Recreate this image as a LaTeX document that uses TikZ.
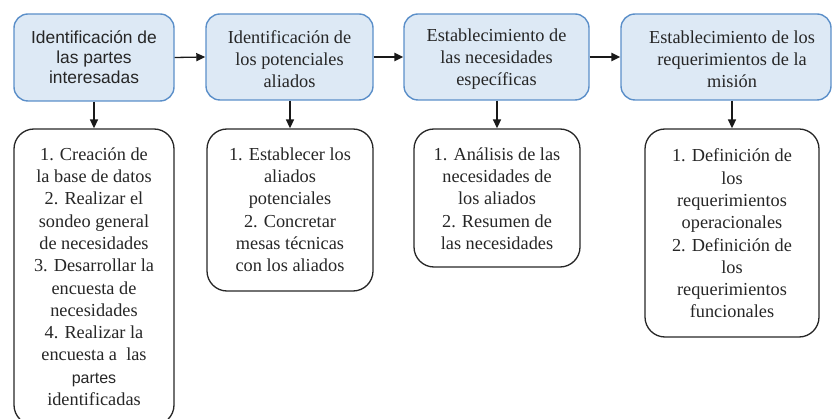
\documentclass[tikz,border=0pt]{standalone}
\usepackage{fontspec}
\setmainfont{Liberation Serif}
\newfontfamily\arialf{Liberation Sans}
\usetikzlibrary{arrows.meta}
\definecolor{boxfill}{HTML}{DDE9F5}
\definecolor{boxline}{HTML}{5B8FC9}
\definecolor{txt}{HTML}{262626}
\begin{document}
\begin{tikzpicture}[x=1pt,y=-1pt,
  topbox/.style={draw=boxline, line width=1.4pt, fill=boxfill, rounded corners=14pt,
    inner sep=0pt, align=center, text=txt, font=\fontsize{18.3}{22}\selectfont},
  toptext/.style={inner sep=0pt, align=center, text=txt, font=\fontsize{18.3}{22}\selectfont},
  lowbox/.style={draw=black!85, line width=1.3pt, rounded corners=20pt, inner sep=0pt},
  lowtext/.style={anchor=north, inner sep=0pt, align=center, text=txt,
    font=\fontsize{18.3}{22.3}\selectfont},
  arr/.style={-{Triangle[length=9pt,width=8pt]}, line width=1.6pt, draw=black!90},
]
\useasboundingbox (0,0) rectangle (832,419);

% top row
\node[topbox, minimum width=160pt, minimum height=87pt,
      font=\arialf\fontsize{17.4}{20}\selectfont] (t1) at (94,57.5)
      {Identificación de\\las partes\\interesadas};
\node[topbox, minimum width=167pt, minimum height=86pt] (t2) at (289.5,57) {};
\node[toptext] (t2txt) at (289.5,59)
      {Identificación de\\los potenciales\\aliados};
\node[topbox, minimum width=185pt, minimum height=86pt] (t3) at (496.5,57) {};
\node[toptext] (t3txt) at (496.5,59)
      {Establecimiento de\\las necesidades\\específicas};
\node[topbox, minimum width=210pt, minimum height=86pt] (t4) at (726,57) {};
\node[toptext] (t4txt) at (732,59)
      {Establecimiento de los\\requerimientos de la\\misión};

% bottom row
\node[lowbox, minimum width=160pt, minimum height=296pt] (b1) at (94,277) {};
\node[lowbox, minimum width=166pt, minimum height=162pt] (b2) at (290,210) {};
\node[lowbox, minimum width=166pt, minimum height=138pt] (b3) at (497,198) {};
\node[lowbox, minimum width=174pt, minimum height=208pt] (b4) at (732,233) {};

\node[lowtext] (b1txt) at (94,144.4)
  {\strut 1. Creación de\\la base de datos\\2. Realizar el\\sondeo general\\de necesidades\\3. Desarrollar la\\encuesta de\\necesidades\\4. Realizar la\\encuesta a\ \ las\\{\arialf\fontsize{16}{22.3}\selectfont partes}\\identificadas};
\node[lowtext] (b2txt) at (290,144.4)
  {\strut 1. Establecer los\\aliados\\potenciales\\2. Concretar\\mesas técnicas\\con los aliados};
\node[lowtext] (b3txt) at (497,144.4)
  {\strut 1. Análisis de las\\necesidades de\\los aliados\\2. Resumen de\\las necesidades};
\node[lowtext] (b4txt) at (732,146)
  {\strut 1. Definición de\\los\\requerimientos\\operacionales\\2. Definición de\\los\\requerimientos\\funcionales};

% connectors
\draw[arr, line width=1.3pt] (t1.east) -- (t2.west);
\draw[arr, line width=2.2pt] (t2.east) -- (t3.west);
\draw[arr, line width=2.2pt] (t3.east) -- (t3.east -| t4.west);
\draw[arr] (t1.south) -- (b1.north);
\draw[arr] (t2.south -| b2.north) -- (b2.north);
\draw[arr] (t3.south -| b3.north) -- (b3.north);
\draw[arr] (t4.south -| b4.north) -- (b4.north);
\end{tikzpicture}
\end{document}
